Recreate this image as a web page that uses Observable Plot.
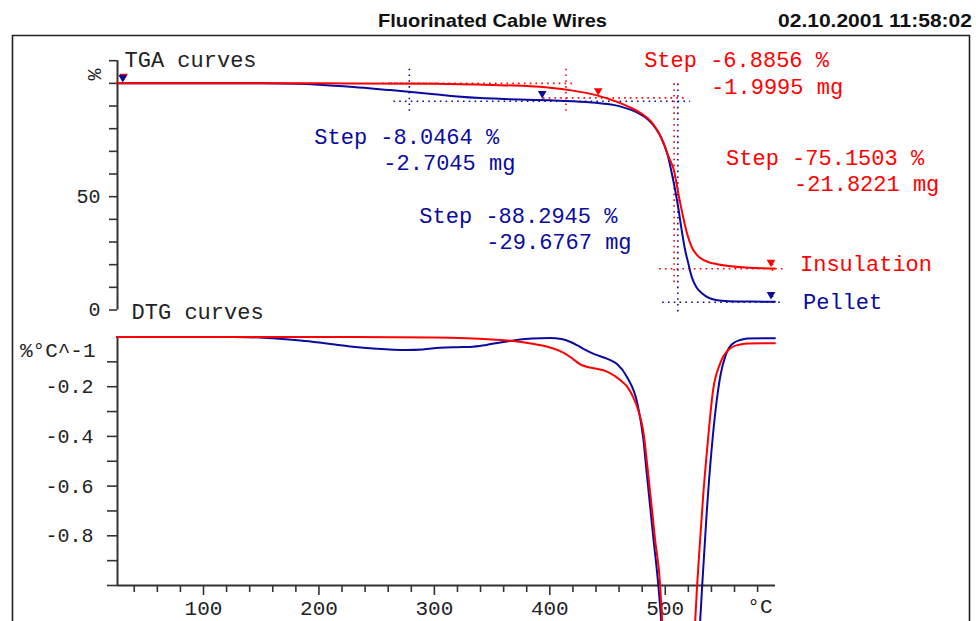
<!DOCTYPE html>
<html><head><meta charset="utf-8">
<script src="https://cdn.jsdelivr.net/npm/d3@7"></script>
<script src="https://cdn.jsdelivr.net/npm/@observablehq/plot@0.6"></script>
<style>
html,body{margin:0;padding:0;background:#fff;overflow:hidden;}
#root{position:relative;width:976px;height:621px;overflow:hidden;background:#fff;}
#root > svg{position:absolute;left:0;top:0;}
</style></head><body><div id="root"></div>
<script>
// ---------- data ----------
const tgaInsulationT   = [25,100,200,300,350,380,400,420,440,460,470,480,488,494,499,503,507.5,511.5,515.5,519,523,527,531,537,545,555,570,595];
const tgaInsulationPct = [100,100,100,99.8,99.3,98.8,98.1,96.8,94.8,91.5,89.3,86.5,83,78.5,73,67.5,61.7,51,41,33.5,27.7,24.5,22.7,21.2,20.2,19.4,18.7,18.3];
const tgaPelletT   = [25,150,180,200,230,260,280,300,320,340,360,380,400,420,440,455,465,475,485,492,497,502,507,511,514,517,520,523,527,532,538,545,555,575,595];
const tgaPelletPct = [100,100,99.8,99.4,98.4,97.1,96.2,95.2,94.2,93.5,93.1,92.8,92.5,92.1,91.4,90.5,89.2,87.3,84,80,75.5,68.5,57,46,36,27,20.5,14.5,10,7.3,5.3,4.3,3.9,3.7,3.6];

const dtgInsulationT = [25,200,300,328,350,366,385,398,408,415,421,426,432,438,450,461,467,472,477,481,485.2,491.3,495.6,497.3,505,513,520,525.9,527.6,530,533,536.5,541.4,547.5,556,563,571,595];
const dtgInsulationV = [0,0,-0.002,-0.005,-0.01,-0.015,-0.027,-0.039,-0.055,-0.072,-0.092,-0.109,-0.12,-0.126,-0.14,-0.173,-0.2,-0.24,-0.3,-0.38,-0.55,-0.82,-1.0,-1.145,-1.8,-2.2,-1.8,-1.145,-1.0,-0.83,-0.63,-0.44,-0.215,-0.107,-0.046,-0.032,-0.026,-0.025];
const dtgPelletT = [25,126,160,184,200,227,250,275,290,305,320,331,345,357,370,385,400,410,418,424,430,438,450,458,467,476,481,484,489.5,494,496.5,503,510,518,525,530.2,532,536,540,544.6,548,551.8,555,558.7,565,571,595];
const dtgPelletV = [0,0,-0.005,-0.014,-0.022,-0.038,-0.047,-0.052,-0.05,-0.043,-0.041,-0.04,-0.032,-0.022,-0.013,-0.006,-0.004,-0.008,-0.02,-0.034,-0.05,-0.068,-0.088,-0.108,-0.162,-0.27,-0.41,-0.55,-0.8,-1.0,-1.145,-1.8,-2.4,-2.0,-1.5,-1.145,-1.0,-0.7,-0.46,-0.255,-0.15,-0.081,-0.045,-0.026,-0.012,-0.006,-0.005];

const xDomain = [25.5, 595.5];
const xMajorTicks = [100,200,300,400,500];
const xMinorTicks = d3.range(40, 581, 20).filter(d => d % 100 !== 0);
const tgaTicks = d3.range(0, 111, 10);
const tgaTickLabels = {0: "0", 50: "50"};
const dtgTicks = d3.range(1, 11).map(i => -i / 10);
const dtgTickLabels = {"-0.2": "-0.2", "-0.4": "-0.4", "-0.6": "-0.6", "-0.8": "-0.8"};

// text annotations (data coordinates: temperature, percent)
const annoLabels = ["TGA curves","DTG curves","Step -6.8856 %","-1.9995 mg","Step -75.1503 %","-21.8221 mg","Insulation","Step -8.0464 %","-2.7045 mg","Step -88.2945 %","-29.6767 mg","Pellet"];
const annoT      = [31.6,37.7,481.7,539.7,552.7,611.6,616.7,196,255.8,287,345,619.3];
const annoPct    = [110.2,-0.7,110.2,98.6,67.3,55.8,20.1,76.3,64.8,41.7,30.2,3.6];
const annoSeries = ["axis","axis","Insulation","Insulation","Insulation","Insulation","Insulation","Pellet","Pellet","Pellet","Pellet","Pellet"];

// step-evaluation construction lines (temperature / percent)
const guideSeries = ["Pellet","Pellet","Pellet","Pellet","Pellet","Pellet","Pellet","Insulation","Insulation","Insulation","Insulation","Insulation","Insulation"];
const guideT1 = [255,264.5,278.3,510.9,497.3,592.9,393.4, 262,414,394,507.7,494.7,592.9];
const guideT2 = [305,521.5,278.3,510.9,602,592.9,393.4, 420,414,519.8,507.7,604.6,592.9];
const guideP1 = [100,92.1,106.5,99.9,3.4,6.4,93.2, 100,106.5,93.6,100,18.2,20.5];
const guideP2 = [100,92.1,87.1,-1.5,3.4,2.0,90.8, 100,87.1,93.6,11.7,18.2,15.3];

// evaluation markers
const markerSeries = ["Insulation","Pellet","Pellet","Insulation","Insulation","Pellet"];
const markerT   = [30.8,30.0,393.4,441.9,591.6,591.6];
const markerPct = [103.1,102.6,95.5,96.8,21.1,6.8];

// ---------- styles ----------
const RED = "#ff0000", BLUE = "#0a0aa0", INK = "#222";
const MONO = "'Liberation Mono','Courier New',monospace";
const colorOf = s => s === "Insulation" ? RED : s === "Pellet" ? BLUE : INK;
const zip = (T, V) => T.map((t, i) => ({T: t, v: V[i]}));

const tgaRed = zip(tgaInsulationT, tgaInsulationPct);
const tgaBlue = zip(tgaPelletT, tgaPelletPct);
const dtgRed = zip(dtgInsulationT, dtgInsulationV);
const dtgBlue = zip(dtgPelletT, dtgPelletV);
const annos = annoLabels.map((l, i) => ({label: l, T: annoT[i], p: annoPct[i], s: annoSeries[i]}));
const guides = guideSeries.map((s, i) => ({s, T1: guideT1[i], T2: guideT2[i], p1: guideP1[i], p2: guideP2[i]}));
const markers = markerSeries.map((s, i) => ({s, T: markerT[i], p: markerPct[i]}));

const root = document.getElementById("root");

// header and frame
const NS = "http://www.w3.org/2000/svg";
const head = document.createElementNS(NS, "svg");
head.setAttribute("width", 976); head.setAttribute("height", 621);
head.innerHTML = `
  <path d="M12.5,621 V35.5 H969.5 V621" fill="none" stroke="#222" stroke-width="1.6"/>
  <text x="378" y="27" textLength="229" lengthAdjust="spacingAndGlyphs" font-family="'Liberation Sans',Arial,sans-serif" font-weight="bold" font-size="18.5" fill="#111">Fluorinated Cable Wires</text>
  <text x="778" y="27" textLength="194" lengthAdjust="spacingAndGlyphs" font-family="'Liberation Sans',Arial,sans-serif" font-weight="bold" font-size="18.5" fill="#111">02.10.2001 11:58:02</text>`;
root.appendChild(head);

const baseStyle = {background: "transparent", overflow: "visible", fontFamily: MONO, fontSize: "20px", color: INK};

// ---------- TGA panel ----------
const guideMarks = ["Insulation","Pellet"].map(s => Plot.link(guides.filter(g => g.s === s), {
  x1: "T1", x2: "T2", y1: "p1", y2: "p2", stroke: colorOf(s), strokeWidth: 1.6, strokeDasharray: "1.6,4.2"
}));
const annoMarks = ["axis","Insulation","Pellet"].map(s => Plot.text(annos.filter(a => a.s === s), {
  x: "T", y: "p", text: "label", fill: colorOf(s), textAnchor: "start", lineAnchor: "middle",
  fontSize: 22, fontFamily: MONO
}));
const markerMarks = ["Insulation","Pellet"].map(s => Plot.dot(markers.filter(m => m.s === s), {
  x: "T", y: "p", symbol: "triangle", rotate: 180, r: 3.2, fill: colorOf(s), stroke: "none"
}));

const tga = Plot.plot({
  width: 976, height: 330,
  marginLeft: 117, marginRight: 201, marginTop: 60.2, marginBottom: 20.5,
  x: {domain: xDomain, axis: null},
  y: {domain: [0, 110]},
  style: baseStyle,
  marks: [
    Plot.ruleX([xDomain[0]], {y1: 0, y2: 110, stroke: "#333", strokeWidth: 2}),
    Plot.axisY(tgaTicks, {tickSize: 8, tickPadding: 9, tickFormat: d => tgaTickLabels[d] || "",
      fontSize: 20, fontFamily: MONO, stroke: "#333", strokeWidth: 1.6, fill: INK, label: null}),
    Plot.text(["%"], {x: () => 5.6, y: () => 103.9, text: d => d, rotate: 90, fontSize: 20, fontFamily: MONO, fill: INK}),
    ...guideMarks,
    Plot.line(tgaBlue, {x: "T", y: "v", stroke: BLUE, strokeWidth: 2, curve: "monotone-x"}),
    Plot.line(tgaRed, {x: "T", y: "v", stroke: RED, strokeWidth: 2, curve: "monotone-x"}),
    ...markerMarks,
    ...annoMarks
  ]
});
root.appendChild(tga);

// ---------- DTG panel ----------
const dtg = Plot.plot({
  width: 976, height: 621,
  marginLeft: 117, marginRight: 201, marginTop: 336.5, marginBottom: 36,
  x: {domain: xDomain},
  y: {domain: [-1, 0]},
  style: baseStyle,
  marks: [
    Plot.ruleX([xDomain[0]], {y1: -1, y2: 0, stroke: "#333", strokeWidth: 2}),
    Plot.ruleY([-1], {x1: xDomain[0], x2: xDomain[1], stroke: "#333", strokeWidth: 2}),
    Plot.axisY(dtgTicks, {tickSize: 10, tickPadding: 14, tickFormat: d => dtgTickLabels[d.toFixed(1)] || "",
      fontSize: 20, fontFamily: MONO, stroke: "#333", strokeWidth: 1.6, fill: INK, label: null}),
    Plot.axisX(xMinorTicks, {tickSize: 7, tickFormat: () => "", stroke: "#333", strokeWidth: 1.6, label: null}),
    Plot.axisX(xMajorTicks, {tickSize: 10, tickPadding: 5, tickFormat: d => String(d),
      fontSize: 21, fontFamily: MONO, stroke: "#333", strokeWidth: 1.6, fill: INK, label: null}),
    Plot.text(["%°C^-1"], {x: () => 6.5, y: () => -0.054, text: d => d, textAnchor: "end", fontSize: 21, fontFamily: MONO, fill: INK}),
    Plot.text(["°C"], {x: () => 582, y: () => -1.083, text: d => d, fontSize: 21, fontFamily: MONO, fill: INK}),
    Plot.line(dtgBlue, {x: "T", y: "v", stroke: BLUE, strokeWidth: 2, curve: "monotone-x"}),
    Plot.line(dtgRed, {x: "T", y: "v", stroke: RED, strokeWidth: 2, curve: "monotone-x"})
  ]
});
root.appendChild(dtg);
</script></body></html>
